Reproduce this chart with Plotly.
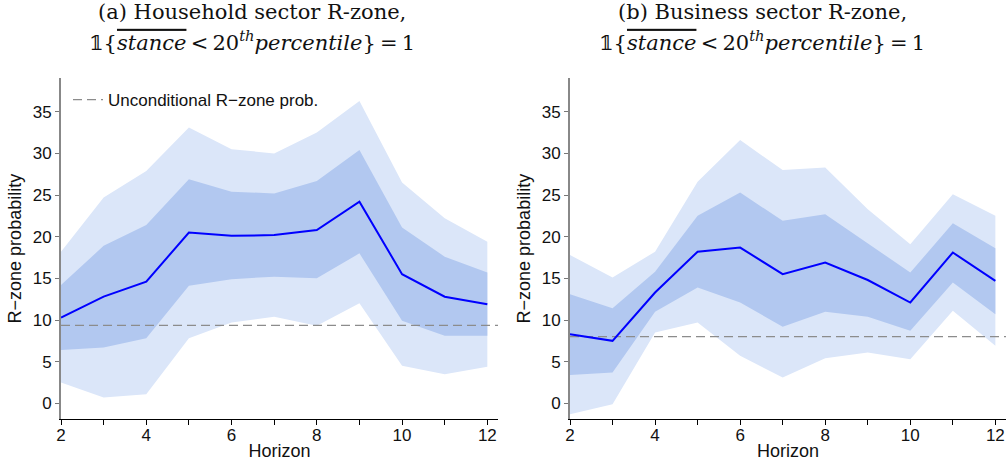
import plotly.graph_objects as go

horizon = [2, 3, 4, 5, 6, 7, 8, 9, 10, 11, 12]

# Panel (a) Household sector
hh_median = [10.3, 12.8, 14.6, 20.5, 20.1, 20.2, 20.8, 24.2, 15.5, 12.8, 11.9]
hh_in_hi = [14.2, 18.9, 21.4, 26.9, 25.4, 25.2, 26.7, 30.4, 21.1, 17.6, 15.7]
hh_in_lo = [6.4, 6.7, 7.8, 14.1, 14.9, 15.2, 15.0, 18.0, 9.9, 8.1, 8.1]
hh_out_hi = [18.2, 24.7, 27.9, 33.1, 30.5, 30.0, 32.5, 36.3, 26.5, 22.2, 19.4]
hh_out_lo = [2.5, 0.7, 1.1, 7.8, 9.7, 10.4, 9.3, 12.0, 4.5, 3.5, 4.4]
hh_uncond = 9.36

# Panel (b) Business sector
bs_median = [8.3, 7.5, 13.3, 18.2, 18.7, 15.5, 16.9, 14.8, 12.1, 18.1, 14.7]
bs_in_hi = [13.1, 11.4, 15.8, 22.5, 25.3, 21.9, 22.7, 19.2, 15.7, 21.6, 18.6]
bs_in_lo = [3.4, 3.7, 11.0, 13.9, 12.1, 9.2, 11.0, 10.4, 8.7, 14.5, 10.7]
bs_out_hi = [17.8, 15.1, 18.2, 26.6, 31.6, 28.0, 28.3, 23.3, 19.1, 25.1, 22.5]
bs_out_lo = [-1.3, -0.1, 8.5, 9.7, 5.7, 3.1, 5.4, 6.1, 5.3, 11.1, 6.9]
bs_uncond = 8.0

y_ticks = [0, 5, 10, 15, 20, 25, 30, 35]
x_tick_vals = [2, 4, 6, 8, 10, 12]
x_tick_text = ["2", "4", "6", "8", "10", "12"]

title_a = "(a) Household sector R-zone,"
title_b = "(b) Business sector R-zone,"
title_line2 = ("𝟙{<span style=\"text-decoration:overline\"><i>stance</i></span>"
               "\u2009&lt;\u200920<sup><i>th</i></sup><i>percentile</i>}\u2009=\u20091")

OUTER = "#dbe6f9"
INNER = "#b2c8f0"
LINE = "#0000ff"
DASH = "#8c8c8c"

fig = go.Figure()

panels = [
    ("x", "y", hh_median, hh_in_hi, hh_in_lo, hh_out_hi, hh_out_lo, hh_uncond, True),
    ("x2", "y2", bs_median, bs_in_hi, bs_in_lo, bs_out_hi, bs_out_lo, bs_uncond, False),
]

for xa, ya, med, ihi, ilo, ohi, olo, unc, show in panels:
    fig.add_trace(go.Scatter(x=horizon + horizon[::-1], y=ohi + olo[::-1],
                             fill="toself", fillcolor=OUTER, line=dict(width=0),
                             mode="lines", showlegend=False, hoverinfo="skip",
                             xaxis=xa, yaxis=ya))
    fig.add_trace(go.Scatter(x=horizon + horizon[::-1], y=ihi + ilo[::-1],
                             fill="toself", fillcolor=INNER, line=dict(width=0),
                             mode="lines", showlegend=False, hoverinfo="skip",
                             xaxis=xa, yaxis=ya))
    fig.add_trace(go.Scatter(x=[2, 12.25], y=[unc, unc], mode="lines",
                             line=dict(color=DASH, width=1.3, dash="9px,5px"),
                             name="Unconditional R\u2212zone prob.",
                             showlegend=show, xaxis=xa, yaxis=ya))
    fig.add_trace(go.Scatter(x=horizon, y=med, mode="lines",
                             line=dict(color=LINE, width=2),
                             showlegend=False, xaxis=xa, yaxis=ya))

W, H = 1006, 468
ydom = [(H - 419.3) / H, (H - 78) / H]
xdom1 = [61 / W, 498 / W]
xdom2 = [570 / W, 1.0]

tickfont = dict(family="Liberation Sans, Arial, sans-serif", size=17, color="#111")
titlefont = dict(family="Liberation Sans, Arial, sans-serif", size=18, color="#111")

xcommon = dict(range=[2, 12.25], tickvals=x_tick_vals, ticktext=x_tick_text,
               ticks="outside", ticklen=5, tickcolor="#000", tickwidth=1,
               minor=dict(tickvals=horizon, ticks="outside", ticklen=5,
                          tickcolor="#000", tickwidth=1, showgrid=False),
               showline=True, linecolor="#000", linewidth=1.2, showgrid=False,
               zeroline=False, tickfont=tickfont, automargin=False,
               ticklabelstandoff=-5,
               title=dict(text="Horizon", font=titlefont, standoff=0))
ycommon = dict(range=[-1.92, 39.05], tickvals=y_ticks,
               ticks="outside", ticklen=4, tickcolor="#777", tickwidth=1,
               showline=True, linecolor="#888", linewidth=2, showgrid=False,
               zeroline=False, tickfont=tickfont, automargin=False,
               title=dict(text="R\u2212zone probability", font=titlefont, standoff=6))

fig.update_layout(
    width=W, height=H,
    margin=dict(l=0, r=0, t=0, b=0),
    paper_bgcolor="white", plot_bgcolor="white",
    xaxis=dict(domain=xdom1, anchor="y", **xcommon),
    yaxis=dict(domain=ydom, anchor="x", **ycommon),
    xaxis2=dict(domain=xdom2, anchor="y2", **xcommon),
    yaxis2=dict(domain=ydom, anchor="x2", **ycommon),
    showlegend=True,
    legend=dict(x=68 / W, y=1 - 82 / H, xanchor="left", yanchor="top",
                bgcolor="rgba(0,0,0,0)", font=dict(family="Liberation Sans, Arial, sans-serif",
                                                  size=17, color="#111"),
                itemwidth=30),
)

serif = dict(family="DejaVu Serif, Liberation Serif, serif", size=21, color="#111")
for cx, t1 in [(252, title_a), (762, title_b)]:
    fig.add_annotation(x=cx / W, y=1 - 12 / H, xref="paper", yref="paper",
                       text=t1, showarrow=False, font=serif,
                       xanchor="center", yanchor="middle")
    fig.add_annotation(x=cx / W, y=1 - 41 / H, xref="paper", yref="paper",
                       text=title_line2, showarrow=False, font=serif,
                       xanchor="center", yanchor="middle")

fig.write_html("out.html")
